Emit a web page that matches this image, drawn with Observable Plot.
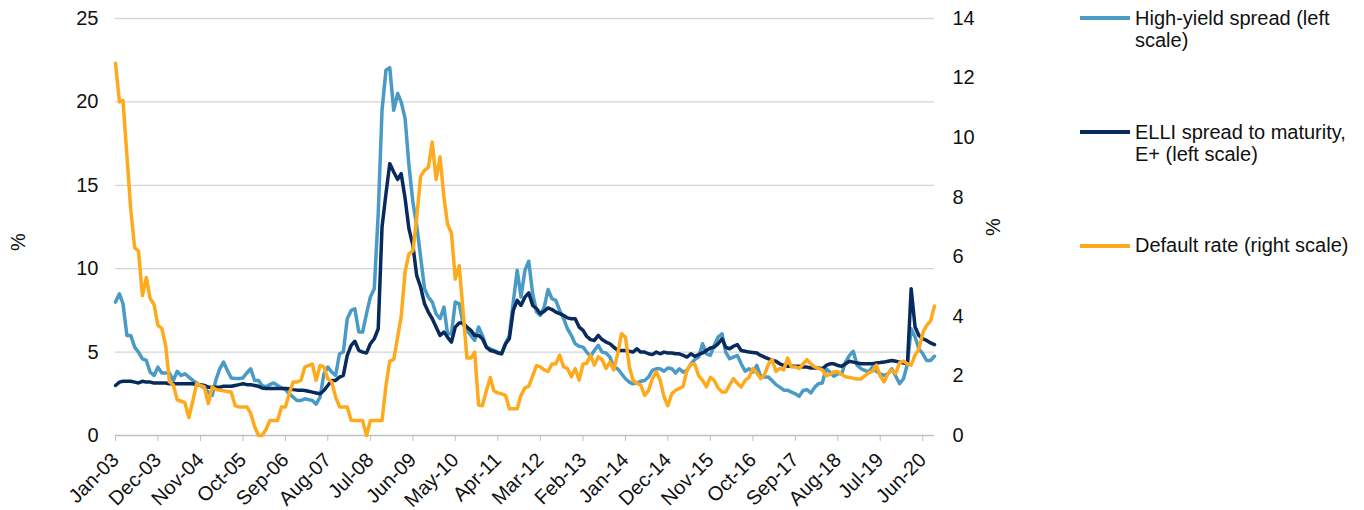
<!DOCTYPE html>
<html>
<head>
<meta charset="utf-8">
<script src="https://cdn.jsdelivr.net/npm/d3@7"></script>
<script src="https://cdn.jsdelivr.net/npm/@observablehq/plot@0.6"></script>
<style>
  body { margin: 0; background: #fff; font-family: "Liberation Sans", Arial, sans-serif; }
  #wrap { position: relative; width: 1364px; height: 510px; overflow: hidden; }
  .legend { position: absolute; left: 0; top: 0; font-size: 20px; color: #111; }
  .sw { position: absolute; width: 50px; height: 4px; left: 1080px; }
  .lab { position: absolute; left: 1135px; line-height: 22px; white-space: nowrap; }
  .ytitle { position: absolute; font-size: 20px; color: #111; transform: translate(-50%, -50%) rotate(-90deg); }
</style>
</head>
<body>
<div id="wrap"></div>
<script>
// ---- Categories / ticks ----
const firstMonth = "2003-01";
const tickLabels = ["Jan-03","Dec-03","Nov-04","Oct-05","Sep-06","Aug-07","Jul-08","Jun-09","May-10","Apr-11","Mar-12","Feb-13","Jan-14","Dec-14","Nov-15","Oct-16","Sep-17","Aug-18","Jul-19","Jun-20"];
const leftTicks = [0, 5, 10, 15, 20, 25];
const rightTicks = [0, 2, 4, 6, 8, 10, 12, 14];
const leftMax = 25;
const rightMax = 14;

// ---- Series (monthly, Jan-03 .. Sep-20) ----
const highYield = [
  8.0, 8.5, 7.9, 6.0, 6.0, 5.3, 5.0, 4.6, 4.5, 3.8, 3.6, 4.1,
  3.75, 3.75, 3.75, 3.3, 3.85, 3.6, 3.7, 3.5, 3.3, 3.15, 3.0, 2.85,
  2.6, 2.4, 3.3, 4.0, 4.4, 3.9, 3.45, 3.42, 3.42, 3.45, 3.75, 4.0,
  3.3, 3.3, 3.0, 2.92, 3.05, 3.15, 3.0, 2.85, 2.75, 2.5, 2.3, 2.1,
  2.1, 2.2, 2.15, 2.1, 1.88, 2.3, 3.7, 4.1, 3.8, 3.6, 4.9, 5.0,
  7.0, 7.5, 7.6, 6.2, 6.2, 7.3, 8.3, 8.8, 13.3, 19.5, 21.9, 22.05,
  19.5, 20.5, 20.0, 19.0, 16.2, 14.0, 12.6, 10.7, 8.8, 8.3, 8.0, 7.3,
  7.0, 7.7, 6.1, 6.1, 8.0, 7.9, 6.7, 6.3, 6.0, 5.7, 6.5, 6.0,
  5.3, 5.2, 5.1, 5.0, 4.9, 5.5, 6.0, 8.0, 9.9, 8.3, 9.9, 10.45,
  8.5, 7.4, 7.2, 7.7, 8.75, 8.2, 8.1, 7.5, 7.0, 6.4, 6.0, 5.5,
  5.35, 5.3, 5.0, 4.75, 5.1, 5.4, 5.0, 4.95, 4.7, 4.1, 4.0, 3.7,
  3.4, 3.2, 3.1, 3.15, 3.25, 3.3, 3.5, 3.9, 4.0, 4.0, 3.85, 4.05,
  4.0, 3.75, 4.0, 3.8, 3.9, 4.3, 4.55, 4.7, 5.5, 4.9, 4.8, 5.4,
  5.9, 6.1, 5.0, 4.6, 4.7, 4.8, 4.3, 3.85, 4.0, 3.8, 4.2, 3.55,
  3.5, 3.5, 3.3, 3.05, 2.9, 2.72, 2.72, 2.6, 2.5, 2.35, 2.7, 2.75,
  2.55, 2.9, 3.1, 3.15, 4.0, 3.8, 3.55, 3.7, 3.7, 4.4, 4.8, 5.05,
  4.2, 4.0, 3.9, 3.8, 4.1, 3.85, 3.7, 3.6, 3.7, 4.0, 3.55, 3.1,
  3.4, 4.3, 6.4, 5.9, 5.2, 4.9, 4.5, 4.5, 4.75
];
const elliSpread = [
  3.0, 3.2, 3.25, 3.25, 3.25, 3.2, 3.15, 3.25, 3.2, 3.2, 3.15, 3.15,
  3.15, 3.15, 3.1, 3.1, 3.1, 3.1, 3.1, 3.1, 3.1, 3.05, 3.05, 3.0,
  2.9, 2.9, 2.9, 2.9, 2.95, 2.95, 2.95, 3.0, 3.05, 3.1, 3.05, 3.05,
  3.0, 2.95, 2.85, 2.82, 2.82, 2.82, 2.82, 2.82, 2.82, 2.8, 2.75, 2.72,
  2.72, 2.7, 2.65, 2.6, 2.55, 2.5, 2.7, 3.0, 3.3, 3.3, 3.5, 3.6,
  4.8, 5.4, 5.65, 5.1, 5.0, 4.95, 5.5, 5.8, 6.4, 12.5, 14.5, 16.3,
  15.8, 15.35, 15.7, 14.2, 12.4, 11.4, 9.6, 8.9, 7.9, 7.4, 7.0, 6.5,
  6.0, 6.2, 5.9, 5.6, 6.5, 6.75, 6.75, 6.5, 6.3, 6.0, 6.0, 5.8,
  5.3, 5.1, 5.05, 4.95, 4.9, 5.5, 5.8, 7.5, 8.1, 7.8, 8.3, 8.55,
  7.8, 7.6, 7.3, 7.45, 7.65, 7.55, 7.4, 7.3, 7.2, 7.05, 7.0, 7.0,
  6.5, 6.3, 5.95, 5.75, 5.7, 6.0, 5.75, 5.6, 5.5, 5.3, 5.1, 5.1,
  5.1, 5.05, 5.0, 5.2, 5.0, 5.0, 4.9, 4.85, 5.0, 4.9, 5.0, 4.95,
  4.95, 4.9, 4.9, 4.8, 4.7, 4.9, 4.75, 4.85, 4.95, 5.1, 5.25, 5.3,
  5.5, 5.8, 5.3, 5.2, 5.35, 5.45, 5.1, 5.05, 5.0, 4.98, 4.95, 4.8,
  4.7, 4.6, 4.5, 4.45, 4.3, 4.2, 4.15, 4.15, 4.15, 4.15, 4.1, 4.1,
  4.05, 4.05, 4.05, 4.0, 4.2, 4.3, 4.3, 4.2, 4.15, 4.3, 4.45, 4.4,
  4.35, 4.3, 4.3, 4.3, 4.3, 4.35, 4.37, 4.4, 4.45, 4.5, 4.45, 4.4,
  4.35, 4.3, 8.8, 6.5, 6.0, 5.8, 5.7, 5.55, 5.45
];
const defaultRate = [
  12.5, 11.2, 11.25, 9.4, 7.6, 6.3, 6.2, 4.7, 5.3, 4.6, 4.4, 3.7,
  3.6, 3.0, 1.8, 1.7, 1.2, 1.15, 1.1, 0.6, 1.15, 1.74, 1.68, 1.63,
  1.07, 1.63, 1.55, 1.52, 1.5, 1.48, 1.46, 1.0, 0.96, 0.96, 0.96, 0.75,
  0.3, 0, 0, 0.2, 0.5, 0.5, 0.5, 0.96, 0.96, 1.4, 1.8, 1.8,
  1.85, 2.3, 2.35, 2.4, 1.85, 2.35, 2.3, 1.9, 1.8, 1.3, 0.96, 0.96,
  0.96, 0.51, 0.5, 0.5, 0.5, 0, 0.5, 0.5, 0.5, 0.5, 1.67, 2.5,
  2.55, 3.3, 4.0, 5.5, 6.1, 6.2, 7.3, 8.7, 8.9, 9.0, 9.85, 8.6,
  9.35, 8.0, 7.1, 6.8, 5.25, 5.7, 4.2, 2.6, 2.6, 2.8, 1.02, 1.0,
  1.5, 1.95, 1.5, 1.43, 1.4, 1.35, 0.9, 0.9, 0.9, 1.35, 1.6, 1.65,
  2.0, 2.35, 2.3, 2.2, 2.15, 2.4, 2.4, 2.7, 2.3, 2.25, 1.97, 2.25,
  1.86, 2.4, 2.42, 2.7, 2.36, 2.64, 2.55, 2.25, 2.47, 2.2, 2.75, 3.42,
  3.3, 2.3, 1.86, 1.75, 1.7, 1.35, 1.5, 1.9, 2.14, 1.86, 1.3, 1.0,
  1.4, 1.52, 1.58, 1.65, 2.2, 2.4, 2.4, 2.0, 1.85, 1.63, 1.95, 1.85,
  1.6, 1.46, 1.46, 1.7, 1.91, 1.75, 1.63, 1.85, 1.95, 2.25, 2.1, 1.91,
  2.05, 2.4, 2.55, 2.15, 2.25, 2.2, 2.6, 2.3, 2.3, 2.25, 2.4, 2.55,
  2.4, 2.3, 2.25, 2.2, 2.0, 2.05, 2.14, 2.14, 2.05, 1.97, 1.95, 1.92,
  1.9, 1.9, 2.0, 2.1, 2.15, 2.36, 2.0, 1.8, 2.08, 2.2, 2.08, 2.45,
  2.5, 2.4, 2.36, 2.7, 2.9, 3.45, 3.7, 3.85, 4.35
];

const seriesNames = ["High-yield spread (left scale)", "ELLI spread to maturity, E+ (left scale)", "Default rate (right scale)"];
const legendLines = [["High-yield spread (left", "scale)"], ["ELLI spread to maturity,", "E+ (left scale)"], ["Default rate (right scale)"]];
const colors = ["#4a9ac6", "#082a5c", "#ffaa1c"];

// ---- Build table ----
const start = d3.utcParse("%Y-%m")(firstMonth);
const parseTick = d3.utcParse("%b-%y");
const tickDates = tickLabels.map(parseTick);
const toLeft = v => v * leftMax / rightMax;
const rows = highYield.map((v, i) => ({
  date: d3.utcMonth.offset(start, i),
  hy: v,
  elli: elliSpread[i],
  def: toLeft(defaultRate[i])
}));

const chart = Plot.plot({
  width: 1364,
  height: 510,
  marginLeft: 115,
  marginRight: 430,
  marginTop: 18,
  marginBottom: 75,
  x: {type: "utc", domain: [rows[0].date, rows[rows.length - 1].date]},
  y: {domain: [0, leftMax]},
  style: {fontSize: "20px", fontFamily: "'Liberation Sans', Arial, sans-serif", color: "#111", background: "transparent"},
  marks: [
    Plot.gridY(leftTicks.filter(d => d > 0), {stroke: "#d5d5d5", strokeOpacity: 1, strokeWidth: 1.3}),
    Plot.ruleY([0], {stroke: "#bfbfbf", strokeWidth: 1.3}),
    Plot.axisX({
      ticks: tickDates,
      tickFormat: d => tickLabels[tickDates.findIndex(t => +t === +d)],
      tickRotate: -45, tickSize: 6, tickPadding: 15,
      stroke: "#bfbfbf", strokeOpacity: 1,
      textAnchor: "end", lineAnchor: "middle",
      fontSize: 20, label: null
    }),
    Plot.axisY({anchor: "left", ticks: leftTicks, tickSize: 0, tickPadding: 17, label: null}),
    Plot.axisY({
      anchor: "right", ticks: rightTicks.map(toLeft),
      tickFormat: d => Math.round(d * rightMax / leftMax),
      tickSize: 0, tickPadding: 18, textAnchor: "start", label: null
    }),
    Plot.lineY(rows, {x: "date", y: "hy", stroke: colors[0], strokeWidth: 3.5, strokeLinejoin: "round"}),
    Plot.lineY(rows, {x: "date", y: "elli", stroke: colors[1], strokeWidth: 3.5, strokeLinejoin: "round"}),
    Plot.lineY(rows, {x: "date", y: "def", stroke: colors[2], strokeWidth: 3.5, strokeLinejoin: "round"})
  ]
});

const wrap = document.getElementById("wrap");
wrap.appendChild(chart);

// Axis titles
const yTitles = [{x: 18, y: 242}, {x: 993, y: 227}];
yTitles.forEach(p => {
  const t = document.createElement("div");
  t.className = "ytitle";
  t.style.left = p.x + "px";
  t.style.top = p.y + "px";
  t.textContent = "%";
  wrap.appendChild(t);
});

// Legend
const legend = document.createElement("div");
legend.className = "legend";
const swatchY = [15.5, 130, 244];
const textTop = [7, 120.5, 234];
legendLines.forEach((lines, i) => {
  const sw = document.createElement("div");
  sw.className = "sw";
  sw.style.top = swatchY[i] + "px";
  sw.style.background = colors[i];
  sw.title = seriesNames[i];
  legend.appendChild(sw);
  const lab = document.createElement("div");
  lab.className = "lab";
  lab.style.top = textTop[i] + "px";
  lab.innerHTML = lines.join("<br>");
  legend.appendChild(lab);
});
wrap.appendChild(legend);
</script>
</body>
</html>
